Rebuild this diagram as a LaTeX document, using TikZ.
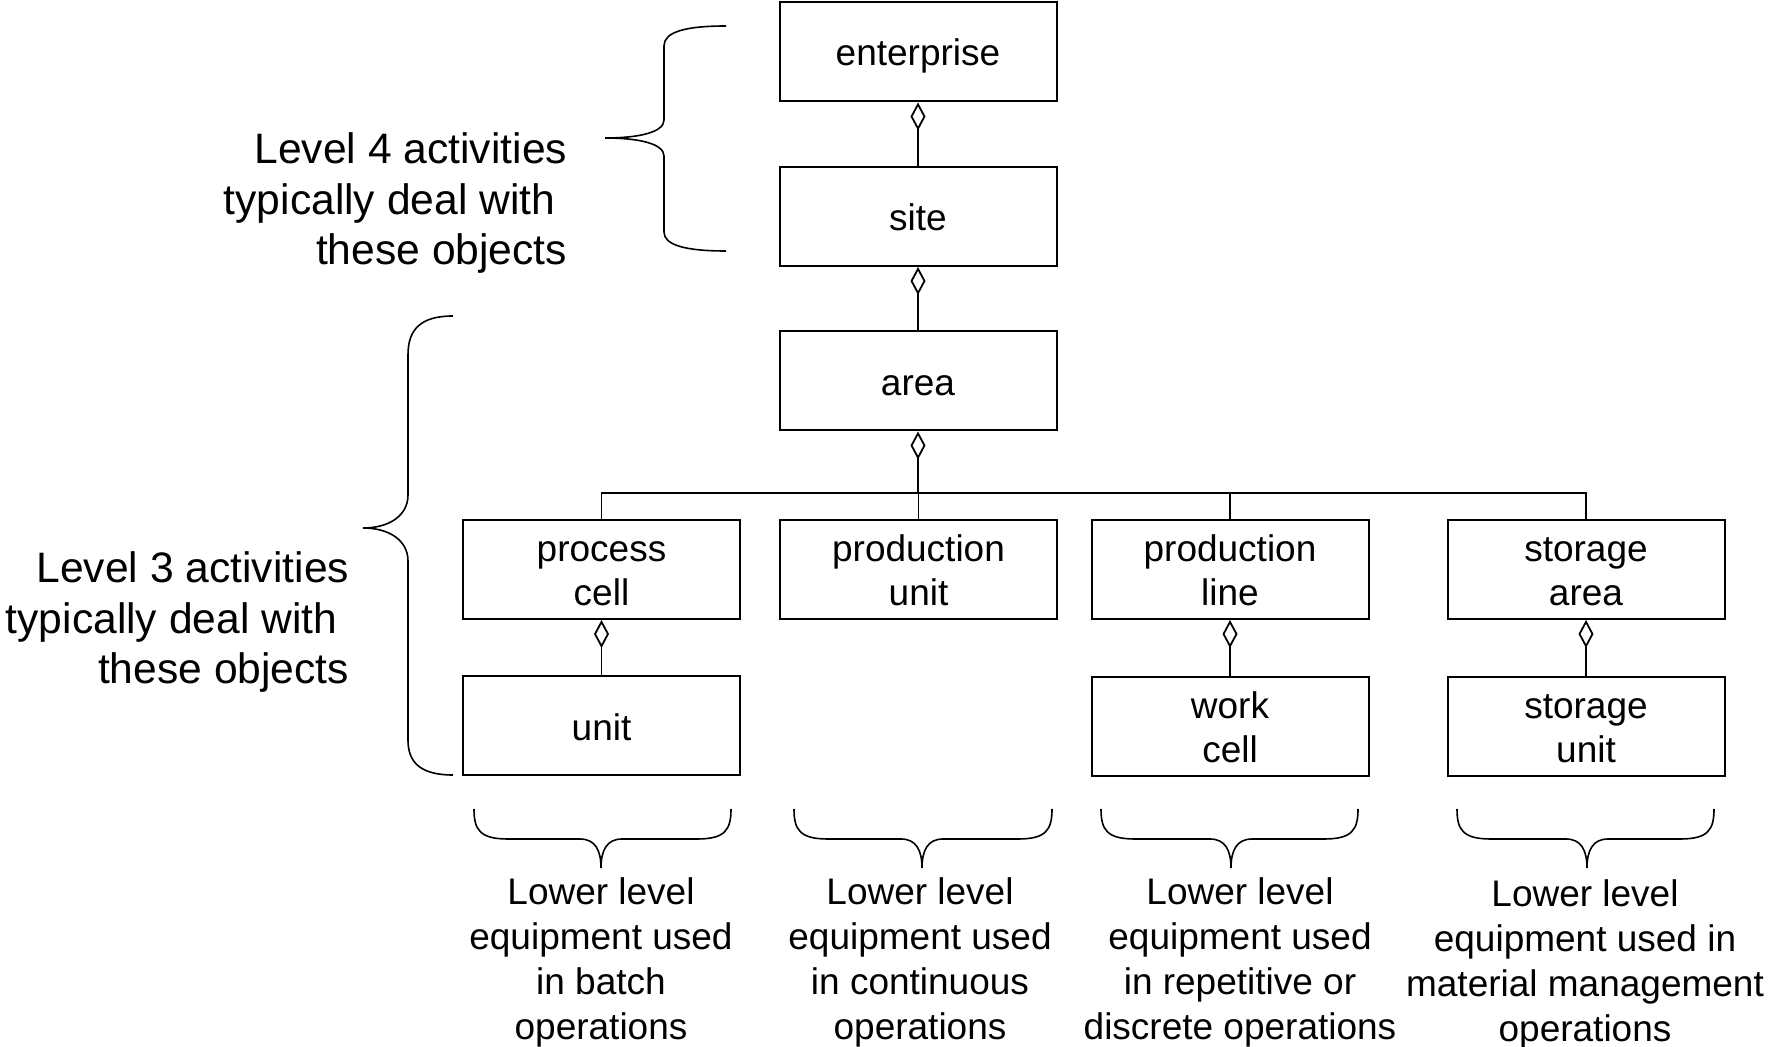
\documentclass[tikz,border=0pt]{standalone}
\usepackage{fontspec}
\setmainfont{Liberation Sans}
\usetikzlibrary{arrows.meta}
\newcommand\bxs{\rule[-3pt]{0pt}{20.2pt}}
\newcommand\lowbrace[3]{%
\draw[brc] (#1,809) .. controls (#1,830) and (#1+6,839) .. (#1+34,839) -- (#2-21,839) .. controls (#2-6,839) and (#2,850) .. (#2,868) .. controls (#2,850) and (#2+6,839) .. (#2+21,839) -- (#3-34,839) .. controls (#3-6,839) and (#3,830) .. (#3,809);}
\begin{document}
\begin{tikzpicture}[x=0.5pt,y=-0.5pt,
  box/.style={draw,line width=1pt,rectangle,minimum width=138.5pt,minimum height=49.5pt,inner sep=0pt,align=center,font=\fontsize{18.5}{22}\selectfont},
  agg/.style={line width=0.9pt,-{Diamond[open,length=14pt,width=7.5pt]}},
  link/.style={line width=0.9pt},
  brc/.style={line width=0.8pt},
  lbl/.style={align=center,inner sep=0pt,font=\fontsize{18.5}{22.5}\selectfont},
  side/.style={align=right,inner sep=0pt,anchor=east,font=\fontsize{21.3}{25.3}\selectfont}]
\useasboundingbox (0,0) rectangle (1768,1047);

\node[box] (ent) at (918,52) {\bxs enterprise\bxs};
\node[box] (site) at (918,216.5) {\bxs site\bxs};
\node[box] (area) at (918,381) {\bxs area\bxs};
\node[box] (pc) at (601.5,569.5) {\bxs process\\cell\bxs};
\node[box] (pu) at (918.5,569.5) {\bxs production\\unit\bxs};
\node[box] (pl) at (1230,569.5) {\bxs production\\line\bxs};
\node[box] (sa) at (1586,569.5) {\bxs storage\\area\bxs};
\node[box] (un) at (601.5,726) {\bxs unit\bxs};
\node[box] (wc) at (1230,726.5) {\bxs work\\cell\bxs};
\node[box] (su) at (1586,726.5) {\bxs storage\\unit\bxs};

\coordinate (bus) at (918,493);
\draw[agg] (site) -- (ent);
\draw[agg] (area) -- (site);
\draw[agg] (bus) -- (area);
\draw[link] (pc.north) -- (pc.north |- bus) -- (sa.north |- bus) -- (sa.north);
\draw[link] (pu.north) -- (pu.north |- bus);
\draw[link] (pl.north) -- (pl.north |- bus);
\draw[agg] (un) -- (pc);
\draw[agg] (wc) -- (pl);
\draw[agg] (su) -- (sa);

% side braces
\draw[brc] (726,26) .. controls (685,26) and (664,32) .. (664,46) -- (664,120) .. controls (664,132) and (640,138) .. (605,138) .. controls (640,138) and (664,144) .. (664,156) -- (664,232) .. controls (664,245) and (685,251) .. (726,251);
\draw[brc] (453,316) .. controls (420,316) and (408,330) .. (408,355) -- (408,495) .. controls (408,515) and (390,528) .. (363,528) .. controls (390,528) and (408,541) .. (408,561) -- (408,740) .. controls (408,762) and (420,775) .. (453,775);

\node[side] (l4) at (567.5,203) {Level 4 activities\\typically deal with\kern0.278em\\these objects};
\node[side] (l3) at (349.5,622) {Level 3 activities\\typically deal with\kern0.278em\\these objects};

% bottom braces
\lowbrace{474}{601}{731}
\lowbrace{794}{922}{1052}
\lowbrace{1101}{1231}{1358}
\lowbrace{1457}{1587}{1714}

\node[lbl] (t1) at (601,962) {Lower level\\equipment used\\in batch\\operations};
\node[lbl] (t2) at (920,962) {Lower level\\equipment used\\in continuous\\operations};
\node[lbl] (t3) at (1240,962) {Lower level\\equipment used\\in repetitive or\\discrete operations};
\node[lbl] (t4) at (1585,964) {Lower level\\equipment used in\\material management\\operations};
\end{tikzpicture}
\end{document}
